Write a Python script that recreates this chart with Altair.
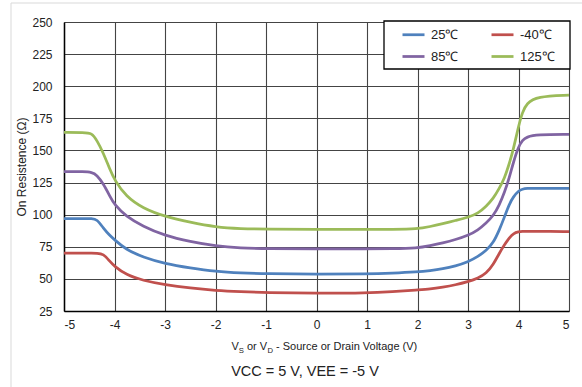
import altair as alt
import pandas as pd

# ---- data ----
X = [-5, -4.6, -4.45, -4.35, -4.22, -4.1, -4.0, -3.77, -3.44, -3, -2.5, -2, -1.5, -1, 0, 1, 1.5, 2,
     2.25, 2.5, 2.75, 3, 3.2, 3.36, 3.5, 3.62, 3.72, 3.82, 3.9, 4.0, 4.08, 4.16, 4.36, 5]
T25 = [97, 97, 97, 96.5, 89.5, 84, 80.5, 72.7, 67, 61.8, 58.5, 55.8, 54.6, 54, 53.6, 53.8, 54.4, 55.4,
       56.4, 57.8, 60, 63.2, 67.5, 72, 78, 88, 98, 108.5, 114, 118.5, 120, 120.5, 120.5, 120.5]
TM40 = [70, 70, 70, 70, 69.5, 64, 59.7, 53.2, 48.8, 45.4, 42.8, 41, 40, 39.3, 38.8, 39, 40, 41.4,
        42, 43.5, 45.3, 47.8, 50.5, 54.3, 61, 70, 76.5, 82, 85.5, 86.7, 87, 87, 87, 86.8]
T85 = [133.5, 133.5, 133, 131, 124, 115, 107.6, 98.7, 91, 83.6, 79, 75.5, 74, 73.5, 73.3, 73.3, 73.4, 74,
       75.9, 78, 80.5, 83.8, 88, 93.5, 99, 107.5, 117, 129, 141, 153, 158, 160.5, 162.3, 162.5]
T125 = [164, 164, 163.5, 158, 148, 136, 127, 114, 105, 98.5, 94, 90.3, 89, 88.7, 88.6, 88.6, 88.6, 88.8,
        90.7, 93, 95.5, 97.8, 101, 106.5, 112.5, 120.5, 128, 140, 151, 169, 180, 186.5, 192, 193]

SERIES = ["25℃", "-40℃", "85℃", "125℃"]
COLORS = ["#4F81BD", "#C0504D", "#8064A2", "#9BBB59"]
XTICKS = [-5, -4, -3, -2, -1, 0, 1, 2, 3, 4, 5]
YTICKS = [25, 50, 75, 100, 125, 150, 175, 200, 225, 250]

Y_TITLE = "On Resistence (Ω)"
FOOTER = "VCC = 5 V, VEE = -5 V"

rows = []
for name, vals in zip(SERIES, [T25, TM40, T85, T125]):
    for xv, v in zip(X, vals):
        rows.append({"x": xv, "r": v, "series": name})
df = pd.DataFrame(rows)

FONT = "Liberation Sans"
W, H = 505, 289
one = pd.DataFrame({"a": [0]})

frame = alt.Chart(one).mark_rect(filled=False, stroke="#d9d9d9", strokeWidth=1).encode(
    x=alt.value(-53), x2=alt.value(530), y=alt.value(-19), y2=alt.value(380))

legend_box = alt.Chart(one).mark_rect(fill="white", stroke="black", strokeWidth=1.3).encode(
    x=alt.value(320), x2=alt.value(506), y=alt.value(-1), y2=alt.value(47))

lines = alt.Chart(df).mark_line(strokeWidth=2.75, interpolate="basis").encode(
    x=alt.X("x:Q", scale=alt.Scale(domain=[-5, 5], nice=False, zero=False),
            axis=alt.Axis(values=XTICKS, title=None, labelExpr="'' + datum.value")),
    y=alt.Y("r:Q", scale=alt.Scale(domain=[25, 250], nice=False, zero=False),
            axis=alt.Axis(values=YTICKS, title=Y_TITLE, titleX=-43, titleY=144.5,
                          titleAngle=270, titleAlign="center", titleBaseline="middle",
                          labelExpr="'' + datum.value")),
    color=alt.Color("series:N", sort=SERIES,
                    scale=alt.Scale(domain=SERIES, range=COLORS),
                    legend=alt.Legend(title=None, orient="none", legendX=337, legendY=0,
                                      direction="horizontal",
                                      columns=2, symbolType="stroke", symbolSize=484,
                                      symbolStrokeWidth=2.75, labelFontSize=13, labelFont=FONT,
                                      labelColor="#222", labelOffset=5, columnPadding=27,
                                      rowPadding=2, padding=0)),
)

def txt(s, x, y, size, align="left"):
    return alt.Chart(one).mark_text(text=s, font=FONT, fontSize=size, align=align,
                                    baseline="alphabetic", color="#222").encode(
        x=alt.value(x), y=alt.value(y))

base_y = 350 - 22
sub_y = 352.5 - 22
title_parts = [
    txt("V", 231.5 - 64, base_y, 11),
    txt("S", 238.8 - 64, sub_y, 7.7),
    txt("or V", 247 - 64, base_y, 11),
    txt("D", 267.5 - 64, sub_y, 7.7),
    txt("- Source or Drain Voltage (V)", 276 - 64, base_y, 11),
    txt(FOOTER, 305 - 64, 375.5 - 22, 14.5, align="center"),
]

chart = alt.layer(frame, legend_box, lines, *title_parts).properties(
    width=W, height=H, autosize="none",
    padding={"left": 64, "top": 22, "right": 13, "bottom": 76},
).configure_view(strokeOpacity=0).configure_axis(
    grid=True, gridColor="#444444", gridWidth=1.1, ticks=False,
    domainColor="black", domainWidth=1.5,
    labelFont=FONT, labelFontSize=12, labelColor="#222",
    titleFont=FONT, titleFontSize=12, titleColor="#222", titleFontWeight="normal",
).configure_axisX(labelPadding=8).configure_axisY(labelPadding=12)

chart.save("out.html", embed_options={"renderer": "svg", "actions": False})
